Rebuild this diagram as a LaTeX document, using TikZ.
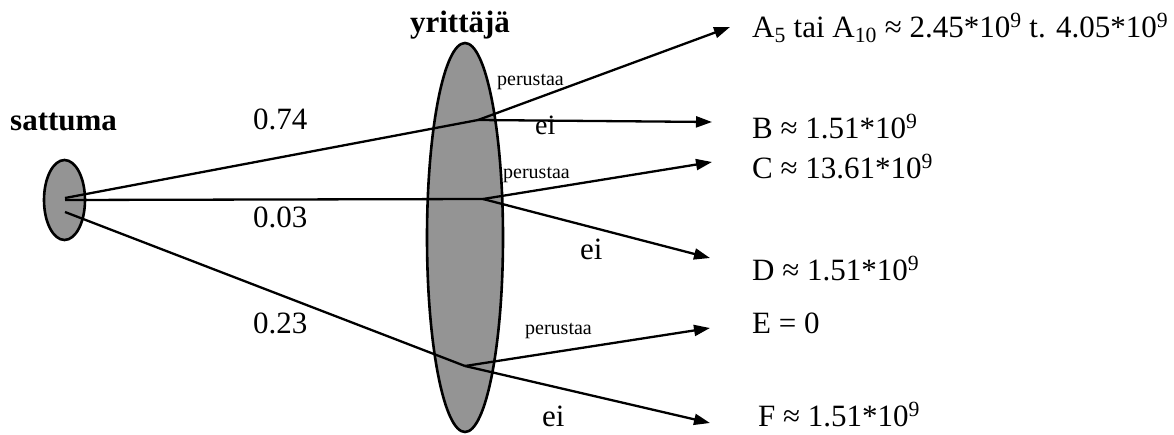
\documentclass[tikz,border=0pt]{standalone}
\usepackage{fontspec}
\setmainfont{Liberation Serif}
\usetikzlibrary{arrows.meta,shapes.geometric}
\begin{document}
\begin{tikzpicture}[x=1pt,y=-1pt,
  blob/.style={draw=black,line width=2.6pt,fill=black!42,ellipse,inner sep=0pt},
  conn/.style={line width=2.3pt,draw=black},
  arr/.style={conn,-{Triangle[length=16pt,width=11pt]}},
  big/.style={font=\fontsize{31}{36}\selectfont,inner sep=0pt,anchor=base west},
  bigb/.style={font=\fontsize{31}{36}\selectfont\bfseries,inner sep=0pt,anchor=base west},
  small/.style={font=\fontsize{20}{24}\selectfont,inner sep=0pt,anchor=base west},
  mid/.style={font=\fontsize{28}{32}\selectfont,inner sep=0pt,anchor=base west}]
\useasboundingbox (0,0) rectangle (1174,434);
% shapes
\node[blob,minimum width=41pt,minimum height=80pt] (sat) at (64.5,200) {};
\node[blob,minimum width=76pt,minimum height=389pt] (yr) at (465,237.5) {};
% coordinates
\coordinate (s1) at (65,198);
\coordinate (s2) at (65,200);
\coordinate (s3) at (65,212);
\coordinate (j1) at (478,120);
\coordinate (j2) at (483,199);
\coordinate (j3) at (465,366);
\coordinate (tA) at (730,27);
\coordinate (tB) at (712,122);
\coordinate (tC) at (712,162);
\coordinate (tD) at (710,258);
\coordinate (tE) at (710,328);
\coordinate (tF) at (710,423);
% connectors
\draw[conn] (s1) -- (j1);
\draw[conn] (s2) -- (j2);
\draw[conn] (s3) -- (j3);
\draw[arr] (j1) -- (tA);
\draw[arr] (j1) -- (tB);
\draw[arr] (j2) -- (tC);
\draw[arr] (j2) -- (tD);
\draw[arr] (j3) -- (tE);
\draw[arr] (j3) -- (tF);
% texts
\node[bigb] (tsat) at (10,130) {sattuma};
\node[bigb,anchor=base] (tyr) at (460,32) {yrittäjä};
\node[big] (p1) at (253,129) {0.74};
\node[big] (p2) at (253,227) {0.03};
\node[big] (p3) at (253,333) {0.23};
\node[small] (per1) at (497,85) {perustaa};
\node[mid] (ei1) at (535,134) {ei};
\node[small] (per2) at (503,178) {perustaa};
\node[big] (ei2) at (580,259) {ei};
\node[small] (per3) at (525,334) {perustaa};
\node[big] (ei3) at (542,426) {ei};
\node[big] (lA) at (752,37) {A\textsubscript{5} tai A\textsubscript{10} ≈ 2.45*10\textsuperscript{9} t. 4.05*10\textsuperscript{9}};
\node[big] (lB) at (752,138) {B ≈ 1.51*10\textsuperscript{9}};
\node[big] (lC) at (752,178) {C ≈ 13.61*10\textsuperscript{9}};
\node[big] (lD) at (752,280) {D ≈ 1.51*10\textsuperscript{9}};
\node[big] (lE) at (752,333) {E = 0};
\node[big] (lF) at (758,426) {F ≈ 1.51*10\textsuperscript{9}};
\end{tikzpicture}
\end{document}
